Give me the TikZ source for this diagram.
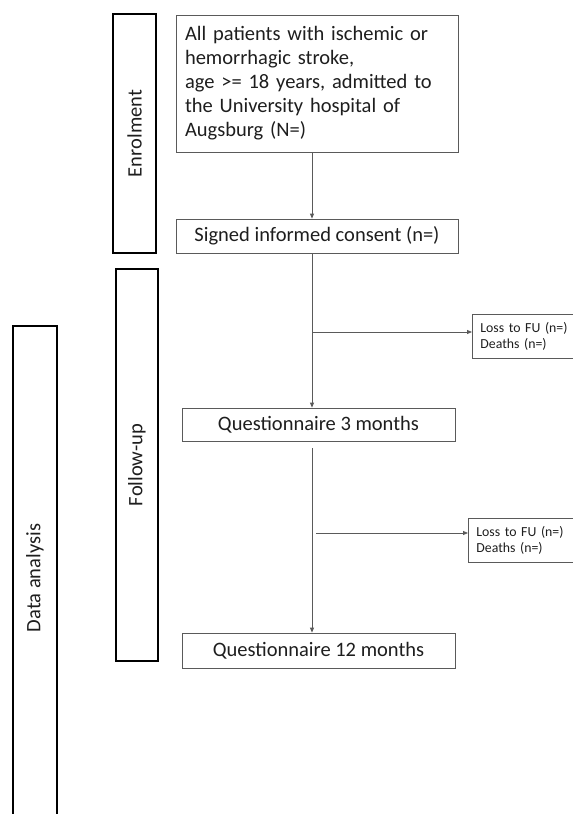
\documentclass[tikz,border=0pt]{standalone}
\usepackage{fontspec}
\setmainfont{Carlito}
\usepackage{tikz}
\usetikzlibrary{arrows.meta}

\definecolor{boxgray}{RGB}{90,90,90}
\definecolor{txtgray}{RGB}{30,30,30}

\tikzset{
  phase/.style={draw=black, line width=1.1pt, rotate=90, text=txtgray,
    font=\fontsize{20.5}{24}\selectfont, inner sep=0pt},
  stepbox/.style={draw=boxgray, line width=0.8pt, text=txtgray,
    font=\fontsize{20.5}{24}\selectfont, inner sep=0pt},
  lossbox/.style={draw=boxgray, line width=0.8pt, text=txtgray, anchor=north west,
    font=\fontsize{13.8}{16}\selectfont, align=left, text width=94pt, inner sep=8pt,
    minimum height=43pt},
  arr/.style={draw=boxgray, line width=0.8pt, -{Triangle[length=5pt,width=4pt]}}
}

\begin{document}
\begin{tikzpicture}[x=1pt, y=-1pt]
    \useasboundingbox (0,0) rectangle (573,814);

    % Phase bars on the left
    \node[phase, minimum width=239pt, minimum height=43pt] (enrol) at (134.5,133.5) {Enrolment};
    \node[phase, minimum width=392pt, minimum height=42pt] (follow) at (137,465) {Follow-up};
    \node[phase, minimum width=504pt, minimum height=44pt] (analysis) at (35,578) {Data analysis};

    % Main flow
    \node[stepbox, minimum width=282pt, minimum height=137pt, text width=264pt, align=left] (all) at (317,83.5)
        {All patients with ischemic or\\hemorrhagic stroke,\\age >= 18 years, admitted to\\the University hospital of\\Augsburg (N=)};
    \node[stepbox, minimum width=282pt, minimum height=34pt] (consent) at (317,236) {Signed informed consent (n=)};
    \node[stepbox, minimum width=273pt, minimum height=33pt] (q3) at (318.5,424.5) {Questionnaire 3 months};
    \node[stepbox, minimum width=273pt, minimum height=35pt] (q12) at (318.5,650.5) {Questionnaire 12 months};

    % Losses
    \node[lossbox] (loss1) at (472,314) {Loss to FU (n=)\\Deaths (n=)};
    \node[lossbox] (loss2) at (468,518) {Loss to FU (n=)\\Deaths (n=)};

    % Arrows
    \coordinate (spine) at (312,0);
    \draw[arr] (spine |- all.south) -- (spine |- consent.north);
    \draw[arr] (spine |- consent.south) -- (spine |- q3.north);
    \draw[arr] ([yshift=-7pt]spine |- q3.south) -- (spine |- q12.north);

    \coordinate (b1) at (312,332);
    \coordinate (b2) at (316,533);
    \draw[arr] (b1) -- (b1 -| loss1.west);
    \draw[arr] (b2) -- (b2 -| loss2.west);
\end{tikzpicture}
\end{document}
